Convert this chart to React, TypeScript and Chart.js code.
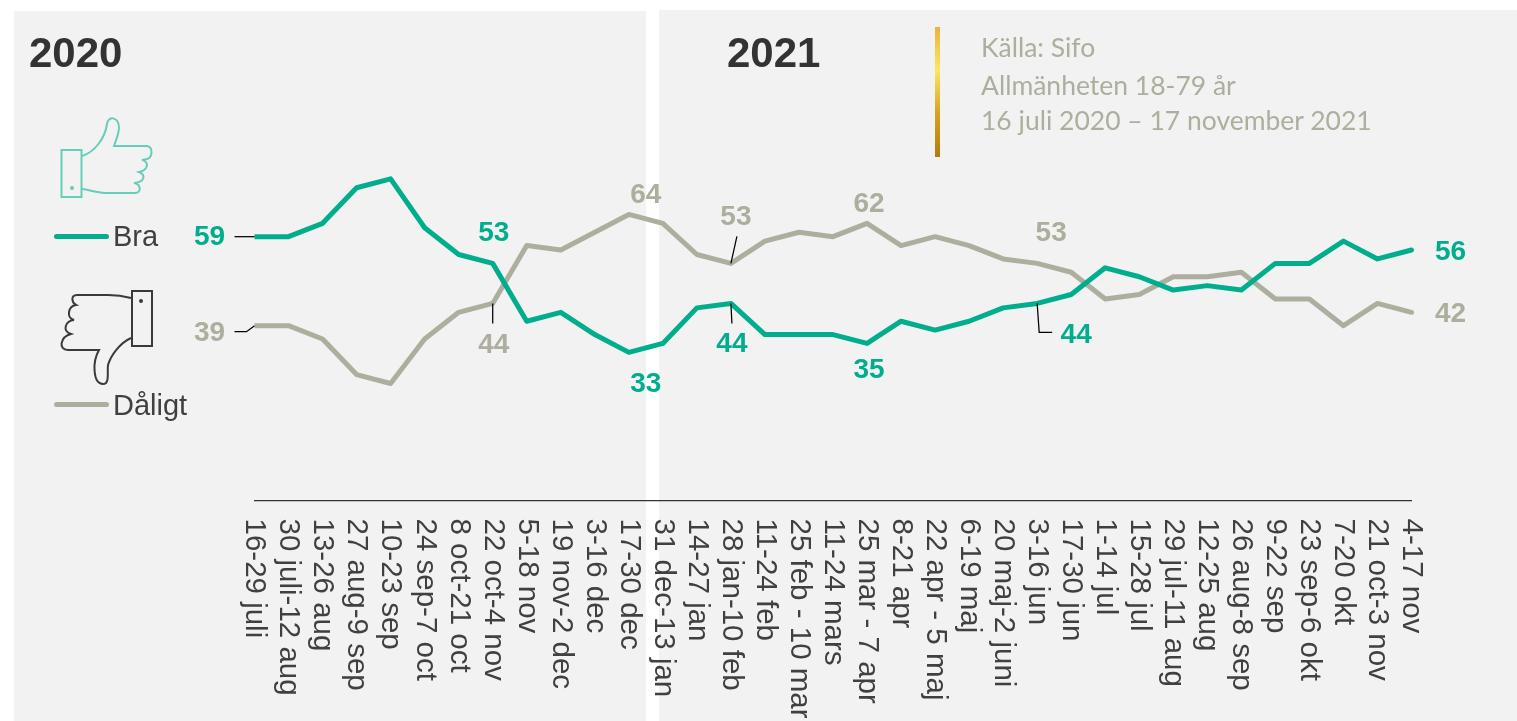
import React, { useEffect, useRef } from "react";
import { Chart, registerables } from "chart.js";

Chart.register(...registerables);

const categories = [
  "16-29 juli", "30 juli-12 aug", "13-26 aug", "27 aug-9 sep", "10-23 sep", "24 sep-7 oct", "8 oct-21 oct",
  "22 oct-4 nov", "5-18 nov", "19 nov-2 dec", "3-16 dec", "17-30 dec", "31 dec-13 jan", "14-27 jan",
  "28 jan-10 feb", "11-24 feb", "25 feb - 10 mar", "11-24 mars", "25 mar - 7 apr", "8-21 apr", "22 apr - 5 maj",
  "6-19 maj", "20 maj-2 juni", "3-16 jun", "17-30 jun", "1-14 jul", "15-28 jul", "29 jul-11 aug", "12-25 aug",
  "26 aug-8 sep", "9-22 sep", "23 sep-6 okt", "7-20 okt", "21 oct-3 nov", "4-17 nov",
];
const bra = [59, 59, 62, 70, 72, 61, 55, 53, 40, 42, 37, 33, 35, 43, 44, 37, 37, 37, 35, 40, 38, 40, 43, 44, 46, 52, 50, 47, 48, 47, 53, 53, 58, 54, 56];
const daligt = [39, 39, 36, 28, 26, 36, 42, 44, 57, 56, 60, 64, 62, 55, 53, 58, 60, 59, 62, 57, 59, 57, 54, 53, 51, 45, 46, 50, 50, 51, 45, 45, 39, 44, 42];

const GREEN = "#00AE8E";
const GREY = "#AEAE9E";
const TEXT = "#404040";
const SANS = '"Liberation Sans", Arial, sans-serif';

// [series, point index, label dx, label dy, leader as offsets from the point]
const callouts: [number, number, number, number, number[][]][] = [
  [0, 0, -45, 1, [[0, 0], [-20, 0]]],
  [0, 7, 1, -30, []],
  [0, 11, 17, 32, []],
  [0, 14, 1, 41, [[0, 0], [1, 20]]],
  [0, 18, 2, 27, []],
  [0, 23, 39, 32, [[0, 0], [2, 29], [15, 29]]],
  [0, 34, 39, 2, []],
  [1, 0, -45, 8, [[0, 0], [-8, 6], [-20, 6]]],
  [1, 7, 1, 42, [[0, 0], [0, 20]]],
  [1, 11, 17, -19, []],
  [1, 14, 5, -46, [[0, 0], [6, -27]]],
  [1, 18, 2, -19, []],
  [1, 23, 14, -30, []],
  [1, 34, 39, 2, []],
];

const calloutPlugin = {
  id: "callouts",
  afterDatasetsDraw(chart: any) {
    const { ctx } = chart;
    ctx.save();
    callouts.forEach(([series, index, dx, dy, leader]) => {
      const point = chart.getDatasetMeta(series).data[index];
      if (leader.length) {
        ctx.beginPath();
        ctx.strokeStyle = "#000000";
        ctx.lineWidth = 1.25;
        leader.forEach(([lx, ly], i) => {
          if (i === 0) ctx.moveTo(point.x + lx, point.y + ly);
          else ctx.lineTo(point.x + lx, point.y + ly);
        });
        ctx.stroke();
      }
      ctx.font = `bold 28px ${SANS}`;
      ctx.textAlign = "center";
      ctx.textBaseline = "middle";
      ctx.fillStyle = series === 0 ? GREEN : GREY;
      ctx.fillText(String(chart.data.datasets[series].data[index]), point.x + dx, point.y + dy);
    });
    ctx.restore();
  },
};

const abs = (style: React.CSSProperties): React.CSSProperties => ({ position: "absolute", whiteSpace: "nowrap", ...style });

export default function App() {
  const ref = useRef<HTMLCanvasElement | null>(null);

  useEffect(() => {
    document.body.style.margin = "0";
    const chart = new Chart(ref.current as HTMLCanvasElement, {
      type: "line",
      data: {
        labels: categories,
        datasets: [
          { label: "Bra", data: bra, borderColor: GREEN, backgroundColor: GREEN },
          { label: "Dåligt", data: daligt, borderColor: GREY, backgroundColor: GREY },
        ],
      },
      options: {
        animation: false,
        responsive: false,
        layout: { padding: { left: 254.5, right: 105.5, top: 165.5, bottom: 0 } },
        datasets: {
          line: {
            borderWidth: 5,
            pointRadius: 0,
            tension: 0,
            borderCapStyle: "round",
            borderJoinStyle: "round",
            clip: { left: 0, top: false, right: false, bottom: false },
          },
        },
        plugins: { legend: { display: false }, tooltip: { enabled: false } },
        scales: {
          x: {
            type: "category",
            offset: false,
            grid: { display: false, drawTicks: false },
            border: { display: true, color: "#333333", width: 1.25 },
            ticks: {
              autoSkip: false,
              minRotation: -90,
              maxRotation: -90,
              padding: 18,
              color: TEXT,
              font: { family: SANS, size: 29.5 },
            },
            afterFit(scale: any) {
              scale.height = 220.5;
              scale._getXAxisLabelAlignment = () => "left";
            },
          },
          y: {
            display: false,
            min: -0.3,
            max: 75,
          },
        },
      } as any,
      plugins: [calloutPlugin],
    });
    return () => chart.destroy();
  }, []);

  return (
    <div style={{ position: "relative", width: 1517, height: 721, overflow: "hidden", background: "#fff", fontFamily: SANS }}>
      <div style={abs({ left: 14, top: 11, width: 632, height: 710, background: "#F2F2F2" })} />
      <div style={abs({ left: 659, top: 10, width: 858, height: 711, background: "#F2F2F2" })} />
      <div style={abs({ left: 935, top: 27, width: 5, height: 130, background: "linear-gradient(#E9B23E 0%, #FBE766 33%, #D9A520 65%, #B07D0A 100%)" })} />
      <canvas ref={ref} width={1517} height={721} style={abs({ left: 0, top: 0, display: "block" })} />

      <div style={abs({ left: 29, top: 29, font: `bold 42px/48px ${SANS}`, color: "#333333" })}>2020</div>
      <div style={abs({ left: 727, top: 29, font: `bold 42px/48px ${SANS}`, color: "#333333" })}>2021</div>
      <div style={abs({ left: 981, top: 32, font: "26.5px/30px Lato", color: GREY })}>Källa: Sifo</div>
      <div style={abs({ left: 981, top: 70, font: "26.5px/30px Lato", color: GREY })}>Allmänheten 18-79 år</div>
      <div style={abs({ left: 981, top: 105, font: "26.5px/30px Lato", color: GREY })}>16 juli 2020 – 17 november 2021</div>

      <div style={abs({ left: 54, top: 233.5, width: 55, height: 5, borderRadius: 3, background: GREEN })} />
      <div style={abs({ left: 113, top: 219, font: `29px/34px ${SANS}`, color: TEXT })}>Bra</div>
      <div style={abs({ left: 54, top: 401.5, width: 55, height: 5, borderRadius: 3, background: GREY })} />
      <div style={abs({ left: 113, top: 388, font: `29px/34px ${SANS}`, color: TEXT })}>Dåligt</div>

      <svg width={1517} height={721} style={abs({ left: 0, top: 0 })} fill="none">
        <g stroke="#66CDB9" strokeWidth={2}>
          <rect x={61.5} y={150} width={20} height={47} />
          <path d="M82 156 C95 152 105 138 107 124 C108 116 118 116 119 127 C119 134 116 140 114 146 L147 146 C153 147 153 157 147 159 L142 160 C149 161 149 170 139 172 C146 175 145 182 134 183 C141 184 142 193 135 193 L108 193 C98 193 90 190 82 189" />
        </g>
        <circle cx={72} cy={188} r={2} fill="#66CDB9" />
        <g stroke="#3A3A3A" strokeWidth={2}>
          <rect x={132} y={291} width={20} height={55} />
          <path d="M131 298 C120 295 115 295 108 295 L77 295 C70 295 72 303 76 305 C68 306 66 318 74 320 C65 321 62 331 71 334 C60 337 58 350 68 350 L99 350 C92 362 93 384 103 384 C110 384 107 372 108 365 C111 355 120 343 131 338" />
        </g>
        <circle cx={141} cy={301} r={2} fill="#3A3A3A" />
      </svg>
    </div>
  );
}
